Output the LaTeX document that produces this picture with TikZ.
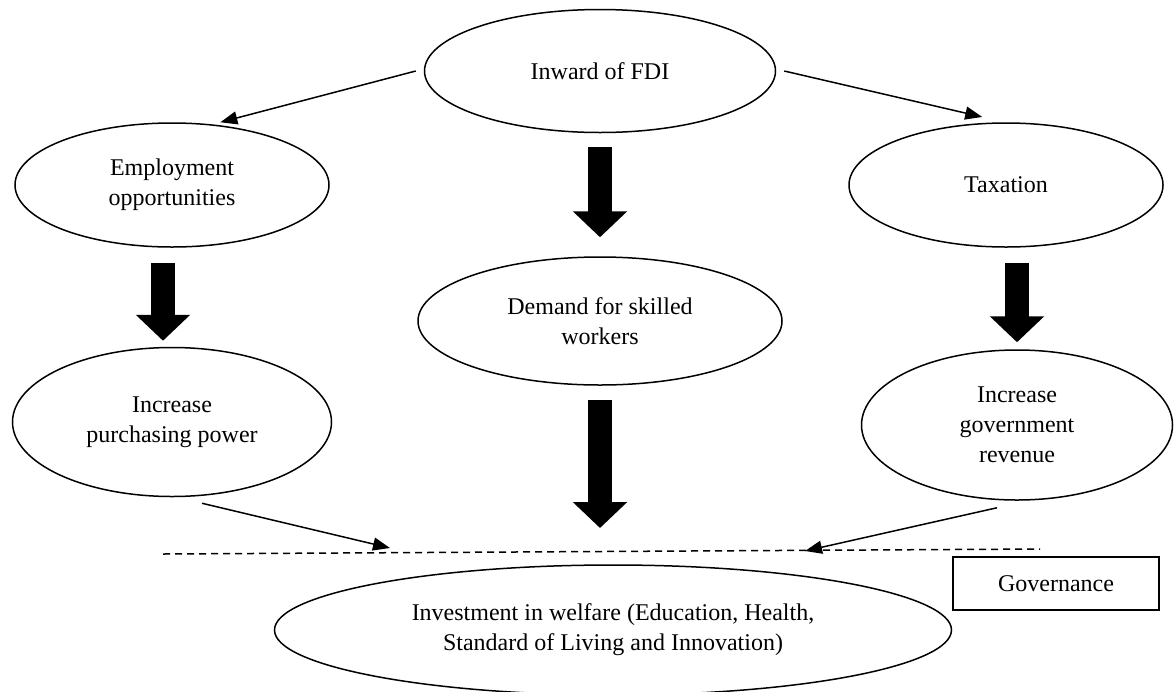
\documentclass[tikz,border=0pt]{standalone}
\usepackage{fontspec}
\setmainfont{Liberation Serif}
\usetikzlibrary{positioning,shapes.geometric,arrows.meta}

\begin{document}
\begin{tikzpicture}[x=0.5pt,y=-0.5pt,
    bubble/.style={ellipse,draw,line width=0.75pt,inner sep=0pt,align=center,
      font=\fontsize{12}{15}\selectfont},
    link/.style={line width=0.75pt,-{Triangle[length=8.5pt,width=6.5pt]}},
    fat/.style={line width=12pt,-{Triangle[length=13pt,width=26.5pt]}}]

    \useasboundingbox (0,0) rectangle (1176,691);

    \node[bubble, minimum width=175.5pt, minimum height=61.5pt] (fdi) at (600,71) {Inward of FDI};
    \node[bubble, minimum width=157pt, minimum height=62pt] (emp) at (172,185) {Employment\\opportunities};
    \node[bubble, minimum width=157pt, minimum height=62pt] (tax) at (1006,185) {Taxation};
    \node[bubble, minimum width=182pt, minimum height=64pt] (dem) at (600,321) {Demand for skilled\\workers};
    \node[bubble, minimum width=159.5pt, minimum height=74.5pt] (pur) at (172,422) {Increase\\purchasing power};
    \node[bubble, minimum width=155.5pt, minimum height=75pt] (rev) at (1017,425) {Increase\\government\\revenue};
    \node[bubble, minimum width=338.5pt, minimum height=65pt] (inv) at (613,630)
      {Investment in welfare (Education, Health,\\Standard of Living and Innovation)};
    \node[draw, line width=0.75pt, minimum width=103pt, minimum height=26.5pt,
      font=\fontsize{12}{15}\selectfont] (gov) at (1056,583.5) {Governance};

    % governance line
    \coordinate (dl) at (163,554);
    \coordinate (dr) at (1040,549);
    \coordinate (al) at (390,548);
    \coordinate (ar) at (805,551);
    \coordinate (dtip) at (600,528);
    \draw[line width=0.75pt, dash pattern=on 3.5pt off 2.5pt] (dl) -- (dr);

    \draw[link] ([xshift=-4pt]fdi.west) -- ([yshift=1.5pt]emp.51);
    \draw[link] ([xshift=4pt]fdi.east) -- ([yshift=3pt]tax.111);
    \draw[link] ([xshift=15pt,yshift=-3pt]pur.south) -- (al);
    \draw[link] ([xshift=-10pt,yshift=-3.5pt]rev.south) -- (ar);

    \draw[fat] ([yshift=-7pt]fdi.south) -- ([yshift=9.5pt]dem.north);
    \draw[fat] ([xshift=-4.5pt,yshift=-7.5pt]emp.south) -- ([xshift=-4.5pt,yshift=3pt]pur.north);
    \draw[fat] ([xshift=5.5pt,yshift=-7.5pt]tax.south) -- ([yshift=3.5pt]rev.north);
    \draw[fat] ([yshift=-7pt]dem.south) -- (dtip);
\end{tikzpicture}
\end{document}
